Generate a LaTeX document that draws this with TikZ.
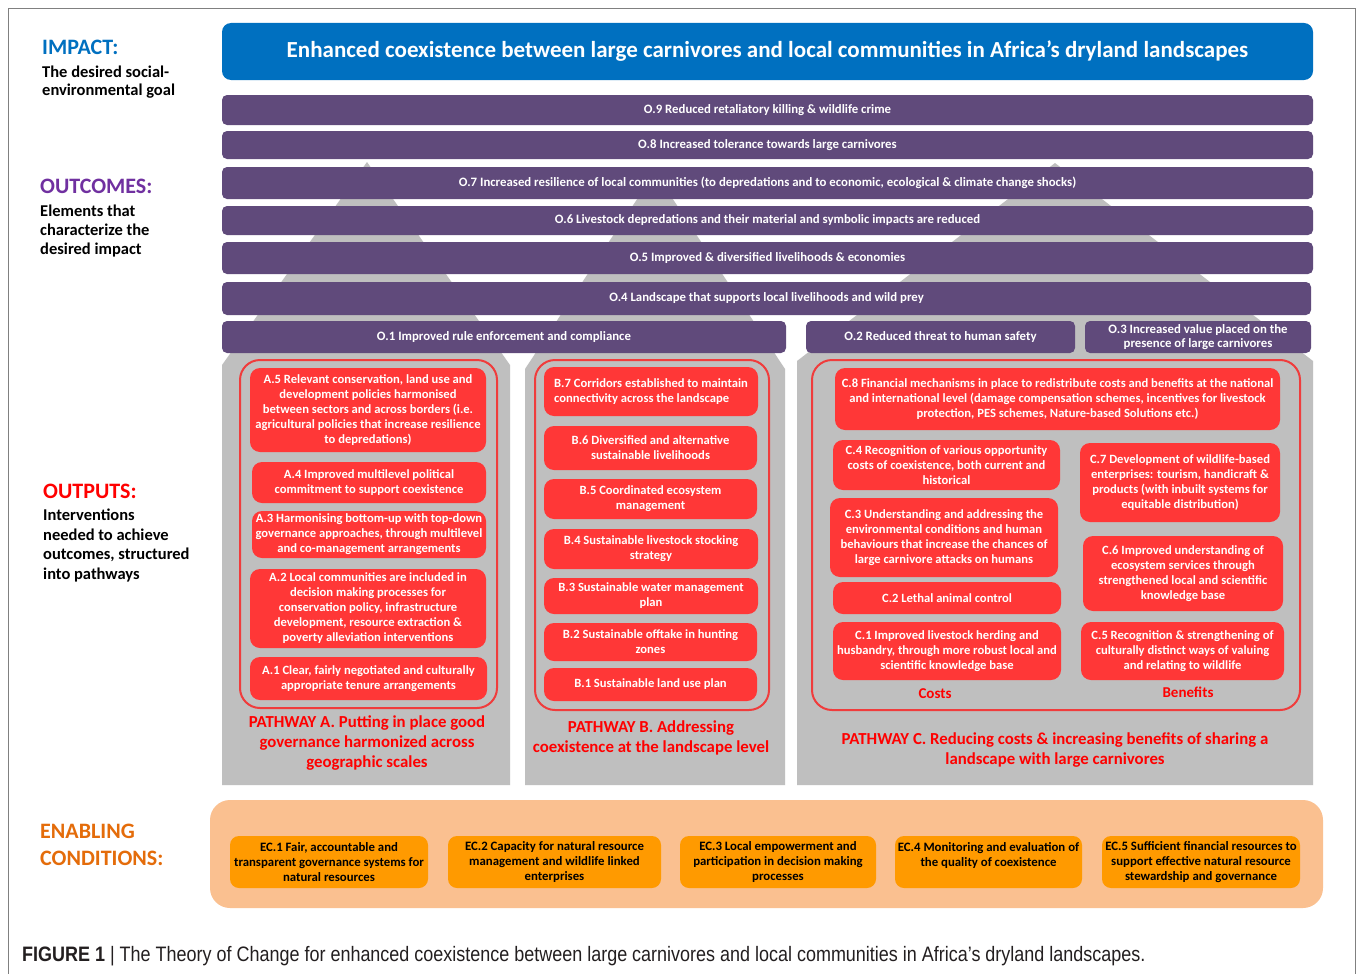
\documentclass[tikz,border=0pt]{standalone}
\usepackage{fontspec}
\setmainfont{Carlito}
\newfontfamily\capfont[FakeStretch=0.86]{Liberation Sans}
\definecolor{impblue}{HTML}{0070C0}
\definecolor{barpurple}{HTML}{604A7B}
\definecolor{colgray}{HTML}{BFBFBF}
\definecolor{boxred}{HTML}{FF3737}
\definecolor{linered}{HTML}{F03C3C}
\definecolor{ecbg}{HTML}{FAC090}
\definecolor{ecbox}{HTML}{FF9A00}
\definecolor{labpurple}{HTML}{7030A0}
\definecolor{laborange}{HTML}{E46C0A}
\definecolor{framegray}{HTML}{808080}
\definecolor{captext}{HTML}{231F20}
\newcommand\mybox[7]{%
  \pgfmathsetmacro\bw{#4-#2}\pgfmathsetmacro\bh{#5-#3}%
  \node[#1, minimum width=\bw pt, minimum height=\bh pt] (#6) at ({(#2+#4)/2},{(#3+#5)/2}) {#7};}
\tikzset{
  impactbox/.style={fill=impblue, rounded corners=9pt, text=white, inner sep=0pt,
    font=\bfseries\fontsize{23}{26}\selectfont},
  bar/.style={fill=barpurple, rounded corners=5pt, text=white, inner sep=0pt, align=center,
    font=\bfseries\fontsize{12.8}{14.5}\selectfont},
  redbox/.style={fill=boxred, rounded corners=10pt, text=white, inner sep=1pt, align=center,
    font=\bfseries\fontsize{12.6}{15}\selectfont},
  container/.style={draw=linered, line width=2pt, rounded corners=20pt, inner sep=0pt},
  ecbgbox/.style={fill=ecbg, rounded corners=20pt, inner sep=0pt},
  ecitem/.style={fill=ecbox, rounded corners=9pt, text=black, inner sep=1pt, align=center,
    font=\bfseries\fontsize{12.8}{15}\selectfont},
  pathlabel/.style={text=red, align=center, inner sep=0pt,
    font=\bfseries\fontsize{16.8}{20}\selectfont},
  sublabel/.style={text=red, inner sep=0pt, font=\bfseries\fontsize{15}{17}\selectfont},
  headlabel/.style={anchor=west, inner sep=0pt, font=\bfseries\fontsize{22}{25}\selectfont},
  desclabel/.style={anchor=west, inner sep=0pt, text=black, font=\bfseries\fontsize{16.5}{19}\selectfont},
  colshape/.style={fill=colgray, draw=none}
}
\begin{document}
\begin{tikzpicture}[x=1pt,y=-1pt]
\useasboundingbox[fill=white] (0,0) rectangle (1357,974);
% frame
\draw[framegray, line width=0.8pt] (8,974) -- (8,8) -- (1355,8) -- (1355,974);

% gray pathway arrows
\fill[colshape] (367,162) -- (222,365) -- (222,785) -- (510,785) -- (510,365) -- cycle;
\fill[colshape] (655,172) -- (525,369) -- (525,785) -- (785,785) -- (785,369) -- cycle;
\fill[colshape] (1055,163) -- (797,361) -- (797,785) -- (1313,785) -- (1313,361) -- cycle;

% impact
\mybox{impactbox}{222}{23}{1313}{80}{impact}{Enhanced coexistence between large carnivores and local communities in Africa’s dryland landscapes}

% outcomes
\mybox{bar}{222}{95}{1313}{125}{o9}{O.9 Reduced retaliatory killing \& wildlife crime}
\mybox{bar}{222}{131}{1313}{159}{o8}{O.8 Increased tolerance towards large carnivores}
\mybox{bar}{222}{167}{1313}{199}{o7}{O.7 Increased resilience of local communities (to depredations and to economic, ecological \& climate change shocks)}
\mybox{bar}{222}{206}{1313}{235}{o6}{O.6 Livestock depredations and their material and symbolic impacts are reduced}
\mybox{bar}{222}{242}{1313}{274}{o5}{O.5 Improved \& diversified livelihoods \& economies}
\mybox{bar}{222}{282}{1311}{315}{o4}{O.4 Landscape that supports local livelihoods and wild prey}
\mybox{bar}{222}{321}{786}{353}{o1}{O.1 Improved rule enforcement and compliance}
\mybox{bar}{806}{321}{1075}{353}{o2}{O.2 Reduced threat to human safety}
\mybox{bar}{1085}{321}{1311}{353}{o3}{O.3 Increased value placed on the\\presence of large carnivores}

% containers
\mybox{container}{240}{360}{497}{708}{contA}{}
\mybox{container}{535}{360}{769}{710}{contB}{}
\mybox{container}{812}{360}{1300}{710}{contC}{}

% pathway A
\mybox{redbox}{250}{368}{486}{452}{a5}{A.5 Relevant conservation, land use and\\development policies harmonised\\between sectors and across borders (i.e.\\agricultural policies that increase resilience\\to depredations)}
\mybox{redbox}{252}{462}{486}{503}{a4}{A.4 Improved multilevel political\\commitment to support coexistence}
\mybox{redbox}{252}{511}{486}{558}{a3}{A.3 Harmonising bottom-up with top-down\\governance approaches, through multilevel\\and co-management arrangements}
\mybox{redbox}{250}{569}{486}{648}{a2}{A.2 Local communities are included in\\decision making processes for\\conservation policy, infrastructure\\development, resource extraction \&\\poverty alleviation interventions}
\mybox{redbox}{250}{657}{487}{700}{a1}{A.1 Clear, fairly negotiated and culturally\\appropriate tenure arrangements}

% pathway B
\mybox{redbox,align=left}{544}{367}{758}{416}{b7}{B.7 Corridors established to maintain\\connectivity across the landscape}
\mybox{redbox}{544}{426}{757}{470}{b6}{B.6 Diversified and alternative\\sustainable livelihoods}
\mybox{redbox}{544}{479}{757}{519}{b5}{B.5 Coordinated ecosystem\\management}
\mybox{redbox}{544}{529}{758}{569}{b4}{B.4 Sustainable livestock stocking\\strategy}
\mybox{redbox}{544}{578}{758}{614}{b3}{B.3 Sustainable water management\\plan}
\mybox{redbox}{544}{623}{757}{661}{b2}{B.2 Sustainable offtake in hunting\\zones}
\mybox{redbox}{544}{668}{757}{701}{b1}{B.1 Sustainable land use plan}

% pathway C
\mybox{redbox}{835}{368}{1280}{430}{c8}{C.8 Financial mechanisms in place to redistribute costs and benefits at the national\\and international level (damage compensation schemes, incentives for livestock\\protection, PES schemes, Nature-based Solutions etc.)}
\mybox{redbox}{833}{440}{1060}{490}{c4}{C.4 Recognition of various opportunity\\costs of coexistence, both current and\\historical}
\mybox{redbox}{830}{498}{1058}{577}{c3}{C.3 Understanding and addressing the\\environmental conditions and human\\behaviours that increase the chances of\\large carnivore attacks on humans}
\mybox{redbox}{833}{582}{1061}{614}{c2}{C.2 Lethal animal control}
\mybox{redbox}{833}{622}{1061}{680}{c1}{C.1 Improved livestock herding and\\husbandry, through more robust local and\\scientific knowledge base}
\mybox{redbox}{1080}{443}{1280}{522}{c7}{C.7 Development of wildlife-based\\enterprises: tourism, handicraft \&\\products (with inbuilt systems for\\equitable distribution)}
\mybox{redbox}{1083}{536}{1283}{611}{c6}{C.6 Improved understanding of\\ecosystem services through\\strengthened local and scientific\\knowledge base}
\mybox{redbox}{1081}{622}{1284}{680}{c5}{C.5 Recognition \& strengthening of\\culturally distinct  ways of valuing\\and relating to wildlife}
\node[sublabel] (costs) at (935,694) {Costs};
\node[sublabel] (benefits) at (1188,692) {Benefits};

% pathway labels
\node[pathlabel] (pathA) at (367,743) {PATHWAY A. Putting in place good\\governance harmonized across\\geographic scales};
\node[pathlabel] (pathB) at (651,738) {PATHWAY B. Addressing\\coexistence at the landscape level};
\node[pathlabel] (pathC) at (1055,750) {PATHWAY C. Reducing costs \& increasing benefits of sharing a\\landscape with large carnivores};

% enabling conditions
\mybox{ecbgbox}{210}{800}{1323}{908}{ecbg}{}
\mybox{ecitem}{230}{836}{428}{888}{ec1}{EC.1 Fair, accountable and\\transparent governance systems for\\natural resources}
\mybox{ecitem}{448}{836}{661}{888}{ec2}{EC.2 Capacity for natural resource\\management and wildlife linked\\enterprises}
\mybox{ecitem}{680}{836}{876}{888}{ec3}{EC.3 Local empowerment and\\participation in decision making\\processes}
\mybox{ecitem}{895}{836}{1082}{888}{ec4}{EC.4 Monitoring and evaluation of\\the quality of coexistence\\~}
\mybox{ecitem}{1102}{836}{1300}{888}{ec5}{EC.5 Sufficient financial resources to\\support effective natural resource\\stewardship and governance}

% left labels
\node[headlabel, text=impblue] (impL) at (42,47) {IMPACT:};
\node[desclabel] (impD1) at (42,72) {The desired social-};
\node[desclabel] (impD2) at (42,91) {environmental goal};
\node[headlabel, text=labpurple] (outcL) at (40,186) {OUTCOMES:};
\node[desclabel] (outcD1) at (40,211) {Elements that};
\node[desclabel] (outcD2) at (40,230) {characterize the};
\node[desclabel] (outcD3) at (40,250) {desired impact};
\node[headlabel, text=red] (outpL) at (43,491) {OUTPUTS:};
\node[desclabel] (outpD1) at (43,515) {Interventions};
\node[desclabel] (outpD2) at (43,535) {needed to achieve};
\node[desclabel] (outpD3) at (43,555) {outcomes, structured};
\node[desclabel] (outpD4) at (43,575) {into pathways};
\node[headlabel, text=laborange] (enL1) at (40,831) {ENABLING};
\node[headlabel, text=laborange] (enL2) at (40,858) {CONDITIONS:};

% caption
\node[anchor=west, inner sep=0pt, text=captext, font=\capfont\fontsize{20.9}{24}\selectfont] (caption) at (22,956) {\textbf{FIGURE 1} | The Theory of Change for enhanced coexistence between large carnivores and local communities in Africa’s dryland landscapes.};
\end{tikzpicture}
\end{document}
